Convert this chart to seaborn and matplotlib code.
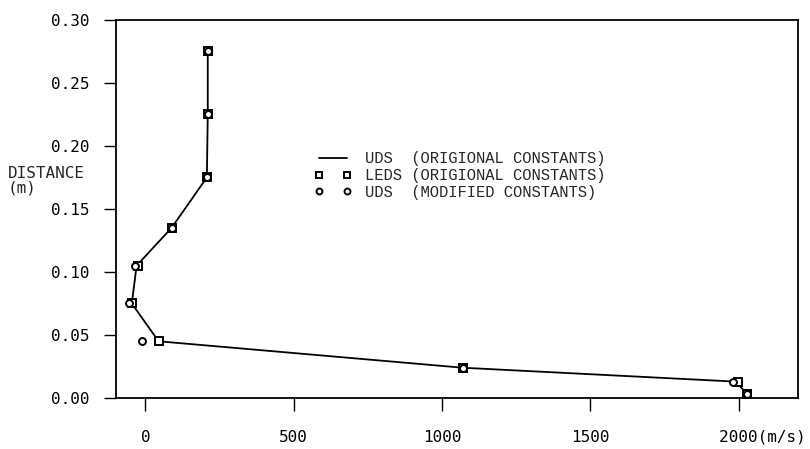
import numpy as np
import pandas as pd
import matplotlib
matplotlib.use("Agg")
import matplotlib.pyplot as plt
import seaborn as sns

# distance from wall (m)
distance = [0.275, 0.225, 0.175, 0.135, 0.105, 0.075, 0.045, 0.024, 0.013, 0.003]
# UDS with original constants (line)
uds_orig = [210, 210, 207, 88, -30, -46, 44, 1071, 1990, 2030]
# LEDS with original constants (squares)
leds_orig = [210, 210, 207, 88, -24, -44, 44, 1071, 1997, 2030]
# UDS with modified constants (circles)
uds_mod = [210, 210, 207, 88, -37, -57, -13, 1071, 1980, 2030]

xticks = [0, 500, 1000, 1500, 2000]
xtick_labels = ["0", "500", "1000", "1500", "     2000(m/s)"]
yticks = [0.00, 0.05, 0.10, 0.15, 0.20, 0.25, 0.30]

sns.set_style("ticks")
plt.rcParams["font.family"] = ["DejaVu Sans Mono"]

df = pd.DataFrame({"dist": distance, "uds": uds_orig, "leds": leds_orig, "mod": uds_mod})

fig = plt.figure(figsize=(8.1, 4.49), dpi=100)
ax = fig.add_axes([0.143, 0.1136, 0.842, 0.842])

sns.lineplot(data=df, x="uds", y="dist", sort=False, estimator=None, color="black",
             linewidth=1.3, ax=ax, label="UDS  (ORIGIONAL CONSTANTS)")
ax.plot(df["leds"], df["dist"], linestyle="none", marker="s", markersize=5.5,
        markerfacecolor="white", markeredgecolor="black", markeredgewidth=1.4,
        label="LEDS (ORIGIONAL CONSTANTS)")
ax.plot(df["mod"], df["dist"], linestyle="none", marker="o", markersize=5,
        markerfacecolor="white", markeredgecolor="black", markeredgewidth=1.4,
        label="UDS  (MODIFIED CONSTANTS)")

ax.set_xlim(-100, 2200)
ax.set_ylim(0, 0.30)
ax.set_xticks(xticks)
ax.set_xticklabels(xtick_labels)
ax.set_yticks(yticks)
ax.set_yticklabels([f"{v:.2f}" for v in yticks])
ax.tick_params(axis="both", direction="out", length=9, width=1, labelsize=11.5, colors="black")
ax.tick_params(axis="y", pad=10)
ax.tick_params(axis="x", pad=14)
for s in ax.spines.values():
    s.set_visible(True)
    s.set_color("black")
    s.set_linewidth(1.3)
ax.set_xlabel("")
ax.set_ylabel("")

fig.text(0.01, 0.597, "DISTANCE\n(m)", fontsize=11.5, ha="left", va="center",
         linespacing=1.0, family="DejaVu Sans Mono")

leg = ax.legend(loc="upper left", bbox_to_anchor=(0.27, 0.69), frameon=False, numpoints=2,
                handlelength=2.4, handletextpad=0.9, labelspacing=0.12, markerscale=0.85,
                prop={"family": "Liberation Mono", "size": 11.2})

fig.savefig("out.png", dpi=100)
